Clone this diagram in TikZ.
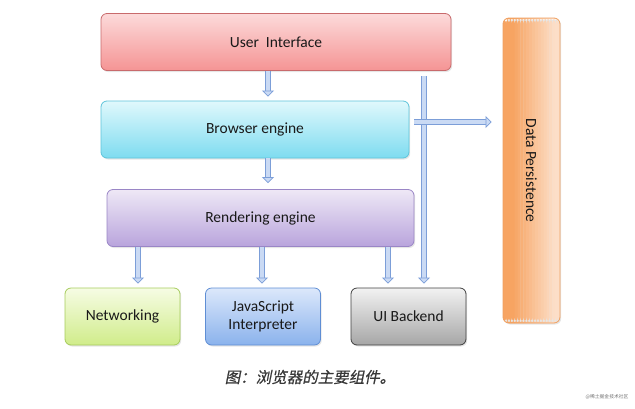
\documentclass[tikz,border=0pt]{standalone}
\usepackage{fontspec}
\setmainfont{Carlito}
\newfontfamily\cjk[FakeSlant=0.2,FakeBold=0.6]{Noto Sans CJK SC}
\newfontfamily\cjkmark{Noto Sans CJK SC}
\usetikzlibrary{arrows.meta,shadows}
\definecolor{uitop}{HTML}{FCDADA}\definecolor{uibot}{HTML}{F59494}\definecolor{uiline}{HTML}{C86A6C}
\definecolor{betop}{HTML}{E0F8FC}\definecolor{bebot}{HTML}{7EDCF0}\definecolor{beline}{HTML}{5EC4DA}
\definecolor{retop}{HTML}{EEE8F6}\definecolor{rebot}{HTML}{B9A4DC}\definecolor{reline}{HTML}{9A86C6}
\definecolor{nwtop}{HTML}{F6FCE4}\definecolor{nwbot}{HTML}{D0EC8A}\definecolor{nwline}{HTML}{A6CC5C}
\definecolor{jstop}{HTML}{DCE8FB}\definecolor{jsbot}{HTML}{8AB2EC}\definecolor{jsline}{HTML}{5F8ED4}
\definecolor{bktop}{HTML}{F2F2F2}\definecolor{bkbot}{HTML}{A6A6A6}\definecolor{bkline}{HTML}{404040}
\definecolor{dpleft}{HTML}{F7A462}\definecolor{dpright}{HTML}{FCDEC8}\definecolor{dpline}{HTML}{EFA061}
\definecolor{arredge}{HTML}{7C9ED8}\definecolor{arrfill}{HTML}{CADAF4}
\begin{document}
\begin{tikzpicture}[x=1pt,y=-1pt,
    box/.style={rounded corners=6pt, line width=0.8pt, align=center, inner sep=0pt,
      font=\fontsize{15.5}{18}\selectfont, text=black!90,
      drop shadow={opacity=0.2, shadow xshift=1.2pt, shadow yshift=-1.5pt}},
    dpfill/.style={path picture={
      \foreach \k in {0,...,19}{
        \pgfmathtruncatemacro\p{max(0,min(100,(\k-3)*7))}
        \fill[dpright!\p!dpleft] ([xshift=\k*2.9pt]path picture bounding box.north west)
          rectangle ([xshift=\k*2.9pt+3.2pt]path picture bounding box.south west);}}},
    arr/.style={draw=arredge, line width=0.7pt, double=arrfill, double distance=4.6pt,
      -{Triangle[length=6pt,width=12pt,fill=arrfill,line width=0.7pt]}}]
  \useasboundingbox (0,0) rectangle (635,408);

  \node[box, draw=uiline, top color=uitop, bottom color=uibot, minimum width=350pt, minimum height=57pt]
    (ui) at (276,42) {User\ \ Interface};
  \node[box, draw=beline, top color=betop, bottom color=bebot, minimum width=308pt, minimum height=57pt]
    (be) at (255,129.5) {Browser engine};
  \node[box, draw=reline, top color=retop, bottom color=rebot, minimum width=307pt, minimum height=57pt]
    (re) at (260.5,218) {Rendering engine};
  \node[box, draw=nwline, top color=nwtop, bottom color=nwbot, minimum width=115pt, minimum height=57pt]
    (nw) at (122.5,316.5) {Networking};
  \node[box, draw=jsline, top color=jstop, bottom color=jsbot, minimum width=115pt, minimum height=57pt]
    (js) at (263,316.5) {JavaScript\\Interpreter};
  \node[box, draw=bkline, top color=bktop, bottom color=bkbot, minimum width=115pt, minimum height=57pt]
    (uib) at (408.5,316.5) {UI Backend};
  \node[box, draw=dpline, dpfill, minimum width=57pt, minimum height=305pt]
    (dp) at (531.5,170.5) {\rotatebox{-90}{Data Persistence}};

  \coordinate (a1) at ([xshift=-8pt]ui.south);
  \coordinate (a2) at ([xshift=13pt]be.south);
  \coordinate (a3) at ([xshift=15.5pt]nw.north);
  \coordinate (a4) at ([xshift=-1pt]js.north);
  \coordinate (a5) at ([xshift=-20.5pt]uib.north);
  \coordinate (a6) at ([xshift=15.5pt]uib.north);
  \coordinate (a7) at ([yshift=7.5pt]be.east);

  \draw[arr, shorten >=4pt] (a1) -- (a1 |- be.north);
  \draw[arr, shorten >=6pt] (a2) -- (a2 |- re.north);
  \draw[arr, shorten >=4pt] (a3 |- re.south) -- (a3);
  \draw[arr, shorten >=4pt] (a4 |- re.south) -- (a4);
  \draw[arr, shorten >=4pt] (a5 |- re.south) -- (a5);
  \draw[arr, shorten <=5pt, shorten >=4pt] (a6 |- ui.south) -- (a6);
  \draw[arr, shorten <=5pt, shorten >=11pt] (a7) -- (a7 -| dp.west);

  \node[font=\cjk\fontsize{15.5}{18}\selectfont, text=black!78] (cap) at (310,377) {图：浏览器的主要组件。};
  \node[font=\cjkmark\fontsize{4.8}{6}\selectfont, text=black!55] (mark) at (607,397) {@稀土掘金技术社区};
\end{tikzpicture}
\end{document}
